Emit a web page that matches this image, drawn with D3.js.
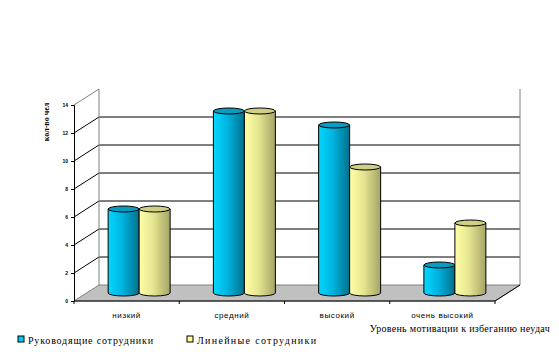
<!DOCTYPE html>
<html>
<head>
<meta charset="utf-8">
<script src="https://cdn.jsdelivr.net/npm/d3@7"></script>
<style>
  body { margin: 0; background: #fff; }
  svg { display: block; }
</style>
</head>
<body>
<div class="chart"></div>
<script>
const categories = ["низкий", "средний", "высокий", "очень высокий"];
const seriesNames = ["Руководящие сотрудники", "Линейные сотрудники"];
const leaders = [6, 13, 12, 2];
const linear = [6, 13, 9, 5];
const yTicks = [0, 2, 4, 6, 8, 10, 12, 14];

const width = 559;
const height = 363;
const plotLeft = 74, plotRight = 495, plotBottom = 301, plotTop = 105;
const dx = 25, dy = -16; // depth of the 3d box

const svg = d3.select(".chart").append("svg")
    .attr("width", width)
    .attr("height", height);

const defs = svg.append("defs");
function grad(id, stops) {
    const g = defs.append("linearGradient").attr("id", id)
        .attr("x1", "0%").attr("x2", "100%").attr("y1", "0%").attr("y2", "0%");
    stops.forEach(s => g.append("stop").attr("offset", s[0]).attr("stop-color", s[1]));
}
grad("gBlue", [[0, "#00d8ff"], [0.45, "#00b4e0"], [1, "#00708c"]]);
grad("gYellow", [[0, "#ffffa8"], [0.45, "#e6e690"], [1, "#a4a468"]]);

const x = d3.scaleBand().domain(categories).range([plotLeft, plotRight]);
const y = d3.scaleLinear().domain([0, 14]).range([plotBottom, plotTop]);

// floor
svg.append("polygon")
    .attr("points", [[plotLeft, plotBottom], [plotRight, plotBottom], [plotRight + dx, plotBottom + dy], [plotLeft + dx, plotBottom + dy]].join(" "))
    .attr("fill", "#c0c0c0")
    .attr("stroke", "#808080")
    .attr("stroke-width", 1);

// gridlines
yTicks.filter(v => v > 0 && v < 14).forEach(v => {
    svg.append("polyline")
        .attr("points", [[plotLeft, y(v)], [plotLeft + dx, y(v) + dy], [plotRight + dx, y(v) + dy]].join(" "))
        .attr("fill", "none")
        .attr("stroke", "#000")
        .attr("stroke-width", 1);
});

// wall edges (grey)
svg.append("polyline")
    .attr("points", [[plotLeft, y(14)], [plotLeft + dx, y(14) + dy], [plotLeft + dx, plotBottom + dy]].join(" "))
    .attr("fill", "none").attr("stroke", "#808080");
svg.append("line")
    .attr("x1", plotRight + dx).attr("x2", plotRight + dx)
    .attr("y1", y(14) + dy).attr("y2", plotBottom + dy)
    .attr("stroke", "#808080");

// floor front/right edges
svg.append("polyline")
    .attr("points", [[plotLeft, plotBottom], [plotRight, plotBottom], [plotRight + dx, plotBottom + dy]].join(" "))
    .attr("fill", "none").attr("stroke", "#000");

// y axis
const yAxis = svg.append("g")
    .attr("transform", "translate(" + plotLeft + ",0)")
    .call(d3.axisLeft(y).tickValues(yTicks).tickSize(3).tickPadding(3));
yAxis.selectAll("path, line").attr("stroke", "#000");
yAxis.selectAll("text")
    .attr("font-family", "Liberation Sans")
    .attr("font-size", 5)
    .attr("font-weight", "bold")
    .attr("fill", "#000");

// x axis ticks at category boundaries
const xAxis = svg.append("g")
    .attr("transform", "translate(0," + plotBottom + ")");
categories.map(c => x(c)).concat([plotRight]).forEach(xx => {
    xAxis.append("line").attr("x1", xx).attr("x2", xx).attr("y1", 0).attr("y2", 3).attr("stroke", "#000");
});
xAxis.selectAll("text.cat")
    .data(categories)
    .enter()
    .append("text")
    .classed("cat", true)
    .attr("x", d => x(d) + x.bandwidth() / 2)
    .attr("y", 17)
    .attr("text-anchor", "middle")
    .attr("font-family", "Liberation Sans")
    .attr("font-size", 8)
    .attr("letter-spacing", 0.6)
    .attr("fill", "#000")
    .text(d => d);

// cylinders
const inner = d3.scaleBand().domain([0, 1]).range([0, 62]);
const fills = ["url(#gBlue)", "url(#gYellow)"];
const topFills = ["#0a9cc0", "#cfcf86"];
const ry = 3;
const rows = [];
categories.forEach((c, i) => {
    [leaders[i], linear[i]].forEach((v, s) => rows.push({ c, s, v }));
});

const bars = svg.selectAll(".bar")
    .data(rows)
    .enter()
    .append("g")
    .classed("bar", true);

function x0(d) { return x(d.c) + (x.bandwidth() - 62) / 2 + dx / 2 + inner(d.s); }
function yb(d) { return y(0) + dy / 2; }
function yt(d) { return y(d.v) + dy / 2; }

bars.append("path")
    .attr("d", d => {
        const w = inner.bandwidth();
        const a = x0(d);
        return "M" + a + "," + yt(d) + " L" + a + "," + yb(d) +
            " A" + (w / 2) + "," + ry + " 0 0 0 " + (a + w) + "," + yb(d) +
            " L" + (a + w) + "," + yt(d) + " Z";
    })
    .attr("fill", d => fills[d.s])
    .attr("stroke", "#000")
    .attr("stroke-width", 1);

bars.append("ellipse")
    .attr("cx", d => x0(d) + inner.bandwidth() / 2)
    .attr("cy", d => yt(d))
    .attr("rx", inner.bandwidth() / 2)
    .attr("ry", ry)
    .attr("fill", d => topFills[d.s])
    .attr("stroke", "#000")
    .attr("stroke-width", 1);

// axis titles
svg.append("text")
    .attr("transform", "translate(49,122) rotate(-90)")
    .attr("text-anchor", "middle")
    .attr("font-family", "Liberation Serif")
    .attr("font-size", 8)
    .attr("font-weight", "bold")
    .attr("fill", "#000")
    .text("кол-во чел");

svg.append("text")
    .attr("x", 550)
    .attr("y", 332)
    .attr("text-anchor", "end")
    .attr("font-family", "Liberation Serif")
    .attr("font-size", 10)
    .attr("letter-spacing", 0.3)
    .attr("fill", "#000")
    .text("Уровень мотивации к избеганию неудач");

// legend
const legendX = [18, 187];
const legendTextWidth = [125, 119];
const legendColors = ["#00ccf0", "#ffff99"];
const legend = svg.selectAll(".legend")
    .data(seriesNames)
    .enter()
    .append("g")
    .classed("legend", true)
    .attr("transform", (d, i) => "translate(" + legendX[i] + ",336)");
legend.append("rect")
    .attr("width", 6).attr("height", 6)
    .attr("fill", (d, i) => legendColors[i])
    .attr("stroke", "#000");
legend.append("text")
    .attr("x", 10)
    .attr("y", 8)
    .attr("font-family", "Liberation Serif")
    .attr("font-size", 10)
    .attr("textLength", (d, i) => legendTextWidth[i])
    .attr("lengthAdjust", "spacing")
    .attr("fill", "#000")
    .text(d => d);
</script>
</body>
</html>
